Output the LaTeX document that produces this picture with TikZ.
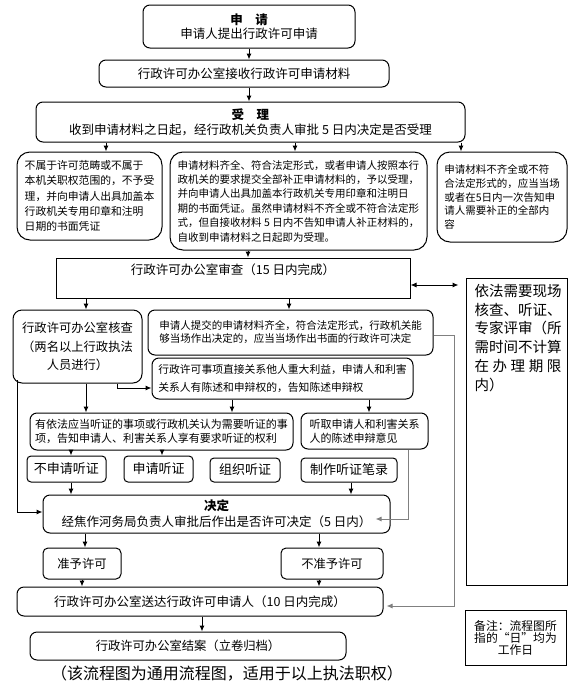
\documentclass[tikz,border=0pt]{standalone}
\usepackage{fontspec}
\setmainfont{Noto Sans CJK SC}
\usetikzlibrary{arrows.meta,calc}
\newcommand\fs[2]{\fontsize{#1}{#2}\selectfont}
\begin{document}
\begin{tikzpicture}[x=1pt,y=-1pt,
  box/.style={draw, line width=1pt, rounded corners=7pt, inner sep=0pt, align=center},
  bigr/.style={box, rounded corners=13pt},
  smr/.style={box, rounded corners=4pt},
  sharp/.style={draw, line width=1pt, inner sep=0pt},
  arr/.style={-{Latex[length=6pt,width=5pt]}, line width=1pt},
  darr/.style={{Latex[length=6pt,width=5pt]}-{Latex[length=6pt,width=5pt]}, line width=1pt},
  garr/.style={arr, draw=black!50}]
\fill[white] (0,0) rectangle (585,694);
\useasboundingbox (0,0) rectangle (585,694);

% nodes
\node[box, minimum width=212pt, minimum height=43pt, font=\fs{12.5}{13.5}] (sq) at (249,26.5) {{\bfseries 申\hspace{1em}请}\\申请人提出行政许可申请};
\node[box, minimum width=290pt, minimum height=27pt, font=\fs{12.5}{14}] (js) at (244,73.5) {行政许可办公室接收行政许可申请材料};
\node[box, minimum width=429pt, minimum height=40pt, font=\fs{12.5}{15}] (sl) at (250.5,122) {{\bfseries 受\hspace{1em}理}\\收到申请材料之日起，经行政机关负责人审批 5 日内决定是否受理};

\node[bigr, minimum width=145pt, minimum height=88pt, align=left, font=\fs{10.8}{15.3}] (b1) at (89.5,196) {不属于许可范畴或不属于\\本机关职权范围的，不予受\\理，并向申请人出具加盖本\\行政机关专用印章和注明\\日期的书面凭证};
\node[bigr, minimum width=257pt, minimum height=98pt, align=left, font=\fs{10.5}{14.4}] (b2) at (298.5,201) {申请材料齐全、符合法定形式，或者申请人按照本行\\政机关的要求提交全部补正申请材料的，予以受理，\\并向申请人出具加盖本行政机关专用印章和注明日\\期的书面凭证。虽然申请材料不齐全或不符合法定形\\式，但自接收材料 5 日内不告知申请人补正材料的，\\自收到申请材料之日起即为受理。};
\node[bigr, minimum width=130pt, minimum height=90pt, align=left, font=\fs{10.5}{13.8}] (b3) at (502,197) {申请材料不齐全或不符\\合法定形式的，应当当场\\或者在5日内一次告知申\\请人需要补正的全部内\\容};

\node[sharp, minimum width=354pt, minimum height=40pt] (sc) at (233,278) {};
\node[font=\fs{12.5}{14}] (sct) at (233,270) {行政许可办公室审查（15 日内完成）};

\node[sharp, minimum width=101pt, minimum height=307pt] (rr) at (516.5,431.5) {};
\node[anchor=north, align=left, font=\fs{14.5}{18.8}, inner sep=0pt] (rrt) at (518,284) {依法需要现场\\核查、听证、\\专家评审（所\\需时间不计算\\在\hspace{3.6pt}办\hspace{3.6pt}理\hspace{3.6pt}期\hspace{3.6pt}限\\内）};

\node[box, rounded corners=9pt, minimum width=129pt, minimum height=73pt, font=\fs{12.3}{18.5}] (kc) at (77.5,346.5) {行政许可办公室核查\\（两名以上行政执法\\人员进行）};
\node[box, minimum width=285pt, minimum height=45pt, align=left, font=\fs{10.5}{13}] (tj) at (290.5,332.5) {申请人提交的申请材料齐全，符合法定形式，行政机关能\\够当场作出决定的，应当当场作出书面的行政许可决定};
\node[box, minimum width=261pt, minimum height=41pt, align=left, font=\fs{10.8}{18}] (zj) at (282.5,378.5) {行政许可事项直接关系他人重大利益，申请人和利害\\关系人有陈述和申辩权的，告知陈述申辩权};
\node[box, minimum width=263pt, minimum height=37pt, align=left, font=\fs{11}{14}] (yf) at (161.5,431.5) {有依法应当听证的事项或行政机关认为需要听证的事\\项，告知申请人、利害关系人享有要求听证的权利};
\node[box, minimum width=127pt, minimum height=36pt, align=left, font=\fs{11}{14}] (tq) at (364.5,431) {听取申请人和利害关系\\人的陈述申辩意见};

\node[smr, minimum width=79pt, minimum height=26pt, font=\fs{13}{14}] (bs) at (66.5,469) {不申请听证};
\node[smr, minimum width=69pt, minimum height=26pt, font=\fs{13}{14}] (sq2) at (158.5,469) {申请听证};
\node[smr, minimum width=70pt, minimum height=24pt, font=\fs{13}{14}] (zz) at (245,470) {组织听证};
\node[smr, minimum width=96pt, minimum height=24pt, font=\fs{13}{14}] (zb) at (349,470) {制作听证笔录};

\node[box, minimum width=347pt, minimum height=38pt, font=\fs{12.5}{16}] (jd) at (216.5,514) {{\bfseries 决定}\\经焦作河务局负责人审批后作出是否许可决定（5 日内）};
\node[box, rounded corners=5pt, minimum width=78pt, minimum height=31pt, font=\fs{12.3}{14}] (zy) at (82,563.5) {准予许可};
\node[box, rounded corners=5pt, minimum width=102pt, minimum height=31pt, font=\fs{12.3}{14}] (bz) at (332,563.5) {不准予许可};
\node[box, minimum width=366pt, minimum height=29pt, font=\fs{12.5}{14}] (sd) at (200,601.5) {行政许可办公室送达行政许可申请人（10 日内完成）};
\node[box, minimum width=316pt, minimum height=28pt, font=\fs{12.3}{14}] (ja) at (188,646) {行政许可办公室结案（立卷归档）};
\node[font=\fs{16}{18}] (cap) at (227,673) {（该流程图为通用流程图，适用于以上执法职权）};
\node[sharp, minimum width=101pt, minimum height=55pt, font=\fs{11.8}{12}, align=center] (nt) at (515.5,637.5) {备注：流程图所\\指的“日”均为\\工作日};

% connectors
\draw[arr] (sq.south) -- (sq.south |- js.north);
\draw[arr] (sq.south |- js.south) -- (sq.south |- sl.north);
\draw[arr] (106,0 |- sl.south) -- (106,0 |- b1.north);
\draw[arr] (295,0 |- sl.south) -- (295,0 |- b2.north);
\draw[arr] (461,0 |- sl.south) -- (461,0 |- b3.north);
\draw[arr] (248,0 |- b2.south) -- (248,0 |- sc.north);
\draw[darr] (sc.east |- 0,285) -- ([xshift=-7pt]rr.west |- 0,285);
\draw[arr] (86,0 |- sc.south) -- (86,0 |- kc.north);
\draw[arr] (289,0 |- sc.south) -- (289,0 |- tj.north);
\draw[arr] (86,0 |- kc.south) -- (86,0 |- yf.north);
\draw[arr] (117,0 |- kc.south) |- (zj.west |- 0,388);
\draw[arr] (17,380) |- (jd.west |- 0,512);
\draw[arr] (232,0 |- zj.south) -- (232,0 |- yf.north);
\draw[arr] (369,0 |- zj.south) -- (369,0 |- tq.north);
\draw[arr] (71,0 |- yf.south) -- (71,0 |- bs.north);
\draw[arr] (162,0 |- yf.south) -- (162,0 |- sq2.north);
\draw[arr] (71,0 |- bs.south) -- (71,0 |- jd.north);
\draw[arr] (351,0 |- zb.south) -- (351,0 |- jd.north);
\draw[garr] (408,0 |- tq.south) |- ([xshift=-15pt]jd.east |- 0,519);
\draw[garr] (tj.east |- 0,335) -- (454,335) |- ([xshift=3pt]sd.east |- 0,606);
\draw[arr] (85,0 |- jd.south) -- (85,0 |- zy.north);
\draw[arr] (319,0 |- jd.south) -- (319,0 |- bz.north);
\draw[arr] (82,0 |- zy.south) -- (82,0 |- sd.north);
\draw[arr] (319,0 |- bz.south) -- (319,0 |- sd.north);
\draw[arr] (202,0 |- sd.south) -- (202,0 |- ja.north);
\end{tikzpicture}
\end{document}
